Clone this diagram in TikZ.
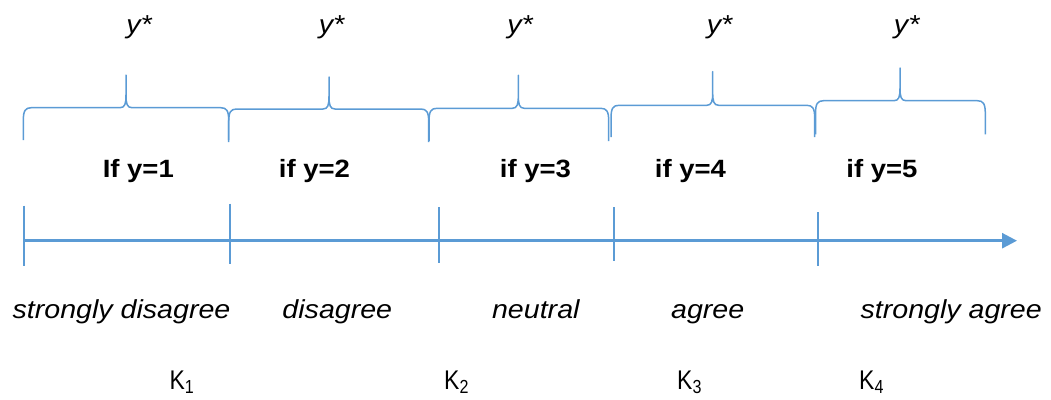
\documentclass[tikz,border=0pt]{standalone}
\usepackage{fontspec}
\setmainfont{Liberation Sans}[FakeStretch=1.1]
\newfontfamily\kfont{Liberation Sans}[FakeStretch=0.85]
\usetikzlibrary{arrows.meta}
\definecolor{offblue}{HTML}{5B9BD5}
\newcommand\mybrace[6]{%
  \draw[bracestyle] (#1,#6) -- (#1,#4+13) .. controls (#1,#4+3) and (#1+2,#4) .. (#1+8,#4)
    -- (#3-6,#4) .. controls (#3-1,#4) and (#3,#4-4) .. (#3,#4-13) -- (#3,#5)
    -- (#3,#4-13) .. controls (#3,#4-4) and (#3+1,#4) .. (#3+6,#4)
    -- (#2-8,#4) .. controls (#2-2,#4) and (#2,#4+3) .. (#2,#4+13) -- (#2,#6);}
\begin{document}
\begin{tikzpicture}[x=1pt,y=-1pt,
  bracestyle/.style={draw=offblue,line width=1.5pt,line join=round},
  tickstyle/.style={draw=offblue,line width=1.5pt},
  axisstyle/.style={draw=offblue,line width=2.7pt,-{Triangle[length=15pt,width=15pt]}},
  ystar/.style={font=\fontsize{26}{30}\selectfont\itshape,anchor=base,inner sep=0pt},
  cond/.style={font=\fontsize{25}{30}\selectfont\bfseries,anchor=base,inner sep=0pt},
  resp/.style={font=\fontsize{26}{30}\selectfont\itshape,anchor=base,inner sep=0pt},
  klab/.style={font=\fontsize{27}{30}\selectfont\kfont,anchor=base west,inner sep=0pt}]
\useasboundingbox (0,0) rectangle (1051,399);

% braces
\mybrace{23.3}{228.7}{126}{107.7}{75}{140}
\mybrace{228.7}{428.7}{329}{109}{77}{142}
\mybrace{429}{608.7}{518.3}{108.3}{75.3}{141}
\mybrace{611}{814.7}{712.7}{105.3}{71.7}{137}
\mybrace{815.5}{985.3}{900}{100.7}{68}{134.3}

% y* labels
\node[ystar] (ys1) at (139,33.5) {y*};
\node[ystar] (ys2) at (331.5,33.5) {y*};
\node[ystar] (ys3) at (520,33.5) {y*};
\node[ystar] (ys4) at (719.5,33.5) {y*};
\node[ystar] (ys5) at (906.7,33.5) {y*};

% conditions
\node[cond] (c1) at (138.3,177.3) {If y=1};
\node[cond] (c2) at (314.5,177.3) {if y=2};
\node[cond] (c3) at (535.5,177.3) {if y=3};
\node[cond] (c4) at (690.5,177.3) {if y=4};
\node[cond] (c5) at (882,177.3) {if y=5};

% ticks
\draw[tickstyle] (24,205.7) -- (24,265.7);
\draw[tickstyle] (230,203.7) -- (230,263.7);
\draw[tickstyle] (439,207) -- (439,263);
\draw[tickstyle] (614,207) -- (614,261);
\draw[tickstyle] (818,212) -- (818,265.7);

% axis
\coordinate (axs) at (23.5,240.7);
\coordinate (axe) at (1017,240.7);
\draw[axisstyle] (axs) -- (axe);

% responses
\node[resp] (r1) at (121.5,318) {strongly disagree};
\node[resp] (r2) at (337.3,318) {disagree};
\node[resp] (r3) at (535.8,318) {neutral};
\node[resp] (r4) at (707.7,318) {agree};
\node[resp] (r5) at (951.2,318) {strongly agree};

% thresholds
\node[klab] (k1) at (169.3,389) {K\textsubscript{1}};
\node[klab] (k2) at (444,389) {K\textsubscript{2}};
\node[klab] (k3) at (677,389) {K\textsubscript{3}};
\node[klab] (k4) at (859,389) {K\textsubscript{4}};
\end{tikzpicture}
\end{document}
